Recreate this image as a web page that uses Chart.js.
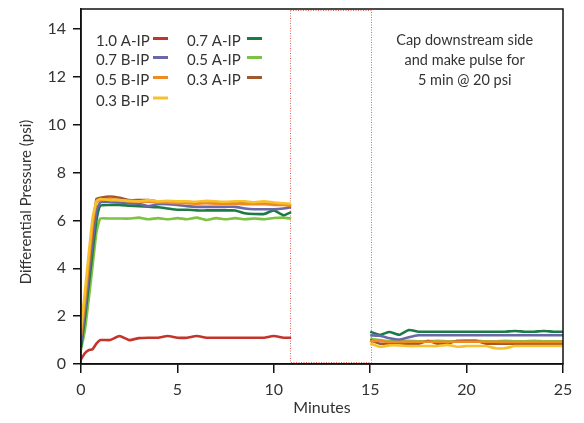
<!DOCTYPE html>
<html>
<head>
<meta charset="utf-8">
<script src="https://cdn.jsdelivr.net/npm/chart.js@4/dist/chart.umd.min.js"></script>
<style>
  html, body { margin: 0; padding: 0; background: #fff; }
  #wrap { width: 584px; height: 423px; position: relative; }
</style>
</head>
<body>
<div id="wrap"><canvas id="c" width="584" height="423"></canvas></div>
<script>
// ---- data ----
const minutes = [0,0.2,0.4,0.6,0.8,1,1.5,2,2.5,3,3.5,4,4.5,5,5.5,6,6.5,7,7.5,8,8.5,9,9.5,10,10.5,10.9,
  13,
  15,15.5,16,16.5,17,17.5,18,18.5,19,19.5,20,20.5,21,21.5,22,22.5,23,23.5,24,24.5,25];

const seriesNames = ["1.0 A-IP","0.7 B-IP","0.5 B-IP","0.3 B-IP","0.7 A-IP","0.5 A-IP","0.3 A-IP"];
const seriesColors = ["#c4342b","#6a68a8","#f08b22","#f7c12e","#1c7b45","#7cc243","#a0582c"];

const a10 = [0.2,0.45,0.58,0.62,0.85,1.0,1.0,1.17,1.0,1.08,1.1,1.1,1.17,1.1,1.1,1.17,1.1,1.1,1.1,1.1,1.1,1.1,1.1,1.17,1.1,1.1,
  null,
  null,null,null,null,null,null,null,null,null,null,null,null,null,null,null,null,null,null,null,null,null];
const b07 = [0.9,2.2,3.7,5.1,6.4,6.75,6.78,6.75,6.72,6.7,6.6,6.68,6.68,6.65,6.6,6.57,6.57,6.57,6.57,6.57,6.5,6.47,6.47,6.47,6.5,6.55,
  null,
  1.2,1.18,1.08,1.02,1.12,1.2,1.2,1.2,1.2,1.2,1.2,1.2,1.2,1.2,1.2,1.2,1.2,1.2,1.2,1.2,1.2];
const b05 = [1.2,2.6,4.2,5.8,6.75,6.85,6.88,6.85,6.8,6.8,6.78,6.75,6.75,6.72,6.72,6.7,6.72,6.7,6.7,6.7,6.68,6.68,6.68,6.65,6.65,6.62,
  null,
  0.95,0.97,0.92,0.92,0.93,0.93,0.93,0.93,0.93,0.93,0.93,0.93,0.93,0.93,0.92,0.92,0.92,0.92,0.92,0.92,0.92];
const b03 = [1.5,3.0,4.6,6.1,6.8,6.9,6.85,6.85,6.82,6.8,6.85,6.8,6.82,6.8,6.8,6.78,6.82,6.8,6.78,6.8,6.8,6.76,6.8,6.75,6.72,6.7,
  null,
  0.85,0.72,0.78,0.78,0.75,0.75,0.75,0.75,0.8,0.72,0.75,0.75,0.75,0.66,0.66,0.75,0.75,0.75,0.75,0.75,0.75];
const a07 = [0.7,1.9,3.3,4.7,6.0,6.62,6.65,6.65,6.62,6.6,6.58,6.55,6.5,6.45,6.45,6.42,6.42,6.42,6.42,6.42,6.3,6.27,6.27,6.42,6.22,6.35,
  null,
  1.35,1.22,1.34,1.22,1.42,1.35,1.35,1.35,1.35,1.35,1.35,1.35,1.35,1.35,1.35,1.38,1.35,1.35,1.38,1.35,1.35];
const a05 = [0.6,1.4,2.7,4.1,5.5,6.08,6.08,6.08,6.08,6.12,6.05,6.1,6.05,6.1,6.05,6.12,6.02,6.1,6.05,6.1,6.05,6.08,6.05,6.1,6.12,6.08,
  null,
  1.05,1.0,0.95,0.95,0.97,0.95,0.95,0.97,0.95,0.95,0.97,0.97,0.95,0.95,0.97,0.95,0.95,0.97,0.95,0.95,0.95];
const a03 = [1.4,2.7,4.1,5.6,6.9,6.95,7.0,6.95,6.85,6.85,6.85,6.8,6.8,6.78,6.75,6.75,6.75,6.75,6.72,6.72,6.72,6.7,6.7,6.7,6.68,6.6,
  null,
  1.0,0.85,0.85,0.85,0.85,0.85,0.97,0.85,0.85,0.97,0.97,0.97,0.85,0.85,0.85,0.85,0.85,0.85,0.85,0.85,0.85];

const seriesValues = [a10, b07, b05, b03, a07, a05, a03];

const xTicks = [0,5,10,15,20,25];
const yTicks = [0,2,4,6,8,10,12,14];
const pulseStart = 10.85, pulseEnd = 15.05;
const noteLines = ["Cap downstream side","and make pulse for","5 min @ 20 psi"];
const noteX = 19.9;
const yTitle = "Differential Pressure (psi)";

// ---- chart ----
const FONT = "Lato, 'Noto Sans', sans-serif";
const TXT = "#333";

// draw order: red on top, then yellow/orange..., greens below
const drawOrder = [0, 3, 2, 6, 1, 4, 5];

const datasets = drawOrder.map((i, k) => ({
  label: seriesNames[i],
  data: minutes.map((m, j) => ({ x: m, y: seriesValues[i][j] })),
  borderColor: seriesColors[i],
  backgroundColor: seriesColors[i],
  borderWidth: 2.6,
  pointRadius: 0,
  tension: 0.15,
  spanGaps: false,
  fill: false,
  order: k
}));

const framePlugin = {
  id: 'frame',
  beforeDatasetsDraw(chart) {
    const { ctx, chartArea: a, scales: { x, y } } = chart;
    const x1 = x.getPixelForValue(pulseStart), x2 = x.getPixelForValue(pulseEnd);
    ctx.save();
    ctx.strokeStyle = "#e06a5e";
    ctx.lineWidth = 1;
    ctx.setLineDash([1, 1.5]);
    ctx.strokeRect(Math.round(x1) + 0.5, a.top + 1.5, Math.round(x2 - x1), a.bottom - a.top - 3);
    ctx.restore();
  },
  afterDraw(chart) {
    const { ctx, chartArea: a, scales: { x } } = chart;
    ctx.save();
    ctx.strokeStyle = "#111";
    ctx.lineWidth = 1.5;
    ctx.strokeRect(a.left, a.top, a.right - a.left, a.bottom - a.top);
    // legend
    ctx.font = "15px " + FONT;
    ctx.textBaseline = "middle";
    ctx.textAlign = "left";
    const cols = [[0,1,2,3],[4,5,6]];
    const colTextX = [a.left + 15, a.left + 106];
    const colSwX = [a.left + 72, a.left + 166];
    const rowY = [a.top + 32.5, a.top + 51.5, a.top + 71.5, a.top + 92];
    cols.forEach((col, ci) => {
      col.forEach((si, ri) => {
        ctx.fillStyle = TXT;
        ctx.fillText(seriesNames[si], colTextX[ci], rowY[ri]);
        ctx.strokeStyle = seriesColors[si];
        ctx.lineWidth = 3;
        ctx.beginPath();
        ctx.moveTo(colSwX[ci], rowY[ri] - 3);
        ctx.lineTo(colSwX[ci] + 15, rowY[ri] - 3);
        ctx.stroke();
      });
    });
    // note
    ctx.font = "14.5px " + FONT;
    ctx.fillStyle = TXT;
    ctx.textAlign = "center";
    const nx = x.getPixelForValue(noteX);
    noteLines.forEach((t, i) => ctx.fillText(t, nx, a.top + 31.5 + i * 20));
    // y title
    ctx.translate(26, 202);
    ctx.rotate(-Math.PI / 2);
    ctx.font = "15px " + FONT;
    ctx.fillText(yTitle, 0, 0);
    ctx.restore();
  }
};

new Chart(document.getElementById('c'), {
  type: 'line',
  data: { datasets },
  options: {
    responsive: false,
    animation: false,
    devicePixelRatio: 1,
    layout: { padding: { left: 0, right: 21, top: 9, bottom: 0 } },
    plugins: { legend: { display: false }, tooltip: { enabled: false } },
    scales: {
      x: {
        type: 'linear', min: 0, max: 25,
        afterFit: s => { s.height = 59; s.paddingLeft = 0; s.paddingRight = 0; },
        afterBuildTicks: s => { s.ticks = xTicks.map(v => ({ value: v })); },
        grid: { display: true, drawOnChartArea: false, drawTicks: true, tickLength: 9, color: "#111", lineWidth: 1.5 },
        border: { display: true, color: "#111", width: 1.5 },
        ticks: { color: TXT, font: { family: FONT, size: 16 }, padding: 7, maxRotation: 0 },
        title: { display: true, text: "Minutes", color: TXT, font: { family: FONT, size: 16 }, padding: { top: 0, bottom: 6 } }
      },
      y: {
        type: 'linear', min: 0, max: 14.84,
        afterFit: s => { s.width = 81; s.paddingTop = 0; s.paddingBottom = 0; },
        afterBuildTicks: s => { s.ticks = yTicks.map(v => ({ value: v })); },
        grid: { display: true, drawOnChartArea: false, drawTicks: true, tickLength: 8, color: "#111", lineWidth: 1.5 },
        border: { display: true, color: "#111", width: 1.5 },
        ticks: { color: TXT, font: { family: FONT, size: 16 }, padding: 7 },
        title: { display: false }
      }
    }
  },
  plugins: [framePlugin]
});
</script>
</body>
</html>
